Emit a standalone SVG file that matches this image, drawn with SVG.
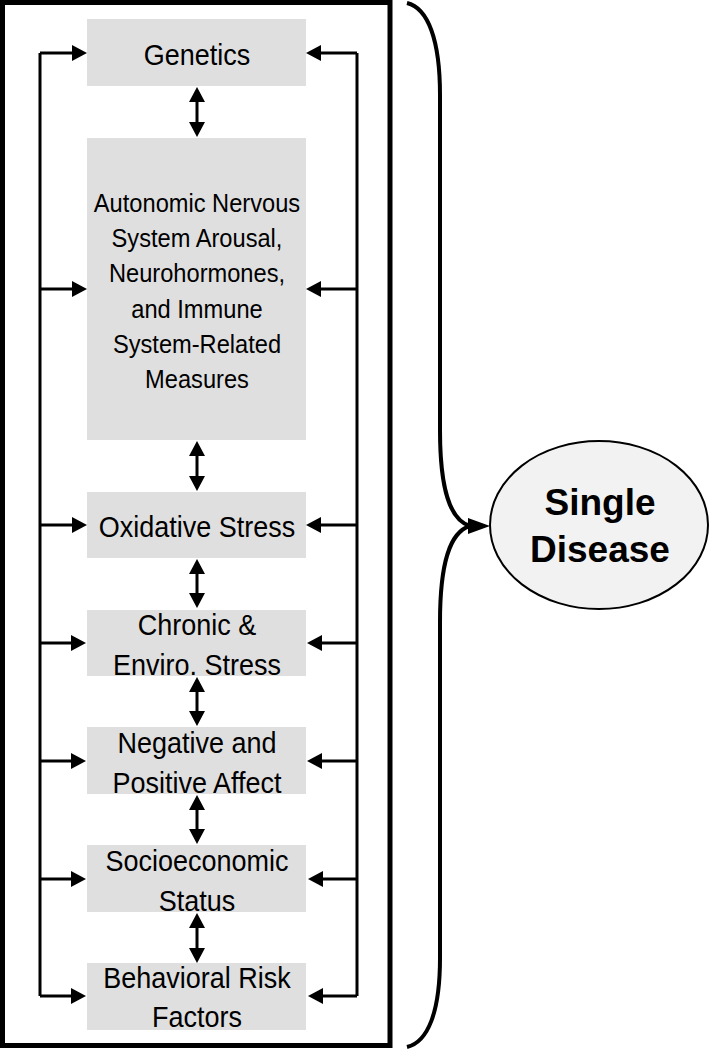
<svg xmlns="http://www.w3.org/2000/svg" width="711" height="1050" viewBox="0 0 711 1050">
<style>
.box{fill:#dfdfdf;stroke:none}
.t{font-family:"Liberation Sans",Arial,sans-serif;font-size:30px;fill:#000;text-anchor:middle}
.s{font-size:26px}
.b{font-family:"Liberation Sans",Arial,sans-serif;font-size:37px;font-weight:bold;fill:#000;text-anchor:middle}
.c{fill:none;stroke:#000;stroke-width:3}
.a{marker-end:url(#ah)}
.d{marker-end:url(#ah);marker-start:url(#ah)}
</style>
<defs>
<marker id="ah" markerUnits="userSpaceOnUse" markerWidth="16" markerHeight="17" refX="5" refY="8" orient="auto-start-reverse" viewBox="0 0 16 16">
<path d="M0,0 L15,8 L0,16 z" fill="#000"/>
</marker>
</defs>
<rect x="0" y="0" width="711" height="1050" fill="#fff"/>
<rect id="frame" x="2.5" y="2.5" width="387.5" height="1043" fill="none" stroke="#000" stroke-width="5"/>
<g id="genetics">
<rect class="box" x="87" y="19" width="219" height="67"/>
<text class="t" transform="translate(197,65) scale(0.9,1)">Genetics</text>
</g>
<g id="ans">
<rect class="box" x="87" y="138" width="219" height="302"/>
<text class="t s" transform="translate(197,212) scale(0.91,1)">Autonomic Nervous</text>
<text class="t s" transform="translate(197,247) scale(0.91,1)">System Arousal,</text>
<text class="t s" transform="translate(197,282) scale(0.91,1)">Neurohormones,</text>
<text class="t s" transform="translate(197,318) scale(0.91,1)">and Immune</text>
<text class="t s" transform="translate(197,353) scale(0.91,1)">System-Related</text>
<text class="t s" transform="translate(197,388) scale(0.91,1)">Measures</text>
</g>
<g id="oxidative">
<rect class="box" x="87" y="492" width="219" height="66"/>
<text class="t" transform="translate(197,537) scale(0.9,1)">Oxidative Stress</text>
</g>
<g id="chronic">
<rect class="box" x="87" y="610" width="219" height="66"/>
<text class="t" transform="translate(197,635) scale(0.9,1)">Chronic &amp;</text>
<text class="t" transform="translate(197,675) scale(0.9,1)">Enviro. Stress</text>
</g>
<g id="affect">
<rect class="box" x="87" y="727" width="219" height="67"/>
<text class="t" transform="translate(197,753) scale(0.9,1)">Negative and</text>
<text class="t" transform="translate(197,793) scale(0.9,1)">Positive Affect</text>
</g>
<g id="ses">
<rect class="box" x="87" y="845" width="219" height="67"/>
<text class="t" transform="translate(197,871) scale(0.9,1)">Socioeconomic</text>
<text class="t" transform="translate(197,911) scale(0.9,1)">Status</text>
</g>
<g id="behavioral">
<rect class="box" x="87" y="963" width="219" height="67"/>
<text class="t" transform="translate(197,988) scale(0.9,1)">Behavioral Risk</text>
<text class="t" transform="translate(197,1027) scale(0.9,1)">Factors</text>
</g>
<g id="disease">
<ellipse cx="599" cy="525" rx="109" ry="84" fill="#f2f2f2" stroke="#000" stroke-width="2"/>
<text class="b" x="600" y="515">Single</text>
<text class="b" x="600" y="562">Disease</text>
</g>
<g id="connectors">
<path class="c" d="M40,53 V996"/>
<path class="c" d="M357,53 V996"/>
<path class="c a" d="M40,53 H77"/>
<path class="c a" d="M40,289 H77"/>
<path class="c a" d="M40,525 H77"/>
<path class="c a" d="M40,643 H76"/>
<path class="c a" d="M40,761 H76"/>
<path class="c a" d="M40,879 H76"/>
<path class="c a" d="M40,996 H76"/>
<path class="c a" d="M357,53 H316"/>
<path class="c a" d="M357,289 H316"/>
<path class="c a" d="M357,525 H316"/>
<path class="c a" d="M357,643 H317"/>
<path class="c a" d="M357,761 H317"/>
<path class="c a" d="M357,879 H318"/>
<path class="c a" d="M357,996 H318"/>
<path class="c d" d="M197,97 V127"/>
<path class="c d" d="M197,451 V481"/>
<path class="c d" d="M197,569 V598"/>
<path class="c d" d="M197,687 V716"/>
<path class="c d" d="M197,805 V834"/>
<path class="c d" d="M197,923 V953"/>
<path fill="none" stroke="#000" stroke-width="4" d="M407,3 C428,8 440,40 440,95 V430 C440,490 450,520 470,526 C450,532 440,562 440,622 V958 C440,1012 428,1042 407,1047"/>
<path d="M468,518 L490,526 L468,534 z" fill="#000"/>
</g>
</svg>
